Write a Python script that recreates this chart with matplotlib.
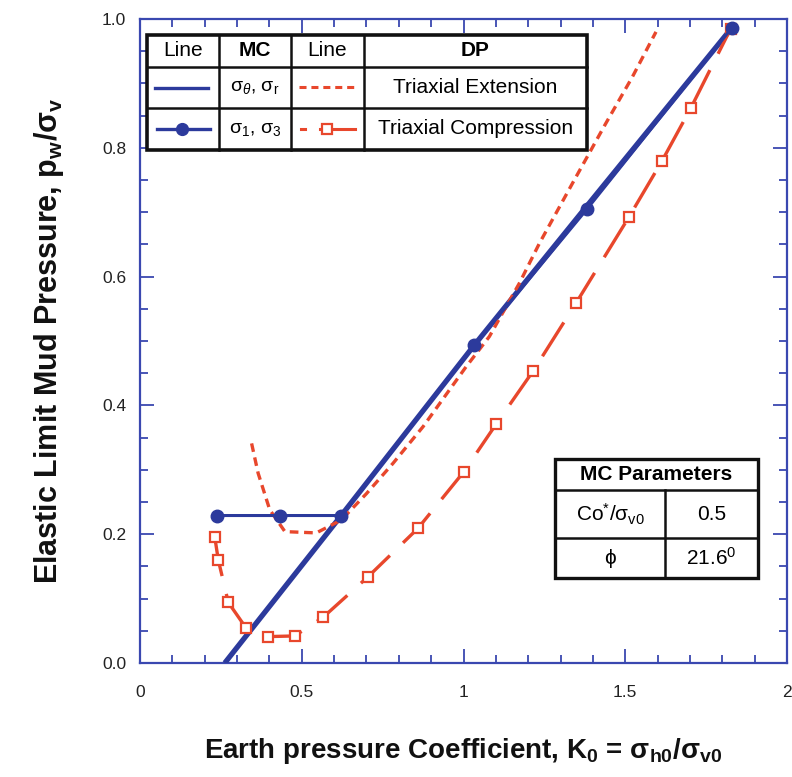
import matplotlib
matplotlib.use("Agg")
import matplotlib.pyplot as plt
from matplotlib.ticker import MultipleLocator
from matplotlib.lines import Line2D
from matplotlib.patches import Rectangle

plt.rcParams['font.family'] = ['Liberation Sans', 'DejaVu Sans']
plt.rcParams['mathtext.fontset'] = 'custom'
plt.rcParams['mathtext.rm'] = 'Liberation Sans'
plt.rcParams['mathtext.it'] = 'Liberation Sans:italic'
plt.rcParams['mathtext.bf'] = 'Liberation Sans:bold'

# ---- data: K0 = sigma_h0/sigma_v0 vs p_w/sigma_v ----
mc_theta_r_k = [0.262, 0.622, 1.034, 1.382, 1.829]
mc_theta_r_p = [0.0, 0.229, 0.494, 0.710, 0.986]

mc_13_k = [0.239, 0.432, 0.622, 1.034, 1.382, 1.829]
mc_13_p = [0.229, 0.229, 0.229, 0.494, 0.705, 0.986]

dp_ext_k = [0.345, 0.365, 0.401, 0.448, 0.545, 0.622, 0.700, 0.782, 0.875,
            1.008, 1.080, 1.173, 1.235, 1.337, 1.440, 1.522, 1.595]
dp_ext_p = [0.341, 0.295, 0.238, 0.204, 0.202, 0.222, 0.263, 0.310, 0.367,
            0.460, 0.507, 0.590, 0.652, 0.745, 0.838, 0.910, 0.980]

dp_comp_k = [0.231, 0.242, 0.273, 0.327, 0.396, 0.478, 0.566, 0.705, 0.859,
             1.001, 1.101, 1.216, 1.348, 1.512, 1.613, 1.703, 1.826]
dp_comp_p = [0.196, 0.160, 0.094, 0.055, 0.041, 0.042, 0.071, 0.134, 0.209,
             0.297, 0.371, 0.454, 0.559, 0.693, 0.779, 0.862, 0.985]

x_ticks = [0, 0.5, 1, 1.5, 2]
x_tick_labels = ["0", "0.5", "1", "1.5", "2"]
y_ticks = [0.0, 0.2, 0.4, 0.6, 0.8, 1.0]

mc_params = [("Co$^{*}$/σ$_{\\mathrm{v0}}$", "0.5"), ("ϕ", "21.6$^{0}$")]

BLUE = "#2c3a9c"
RED = "#e8472c"
SPINE = "#3a48b0"

W, H = 792, 777
fig = plt.figure(figsize=(W / 100, H / 100), dpi=100)
ax = fig.add_axes([140 / W, 1 - 663 / H, 647 / W, 644 / H])

# MC lines
ax.plot(mc_theta_r_k, mc_theta_r_p, color=BLUE, lw=3.8, solid_capstyle='butt', zorder=3)
ax.plot(mc_13_k, mc_13_p, color=BLUE, lw=2.2, marker='o', ms=9, mfc=BLUE, mec=BLUE, zorder=5)

# DP lines
ax.plot(dp_ext_k, dp_ext_p, color=RED, lw=2.4, dashes=(2.6, 1.7), zorder=4)
ax.plot(dp_comp_k, dp_comp_p, color=RED, lw=2.4, dashes=(12, 5.5),
        marker='s', ms=7.5, mfc='white', mec=RED, mew=1.6, zorder=4)

ax.set_xlim(0, 2)
ax.set_ylim(0, 1)
ax.set_xticks(x_ticks)
ax.set_xticklabels(x_tick_labels)
ax.xaxis.set_minor_locator(MultipleLocator(0.1))
ax.set_yticks(y_ticks)
ax.set_yticklabels([f"{v:.1f}" for v in y_ticks])
ax.yaxis.set_minor_locator(MultipleLocator(0.05))

for s in ax.spines.values():
    s.set_color(SPINE)
    s.set_linewidth(1.6)
ax.tick_params(which='both', direction='in', top=True, right=True, color=SPINE, width=1.3)
ax.tick_params(which='major', length=10)
ax.tick_params(which='minor', length=6)
ax.tick_params(axis='x', which='major', pad=16, labelsize=12.5, labelcolor='#222222')
ax.tick_params(axis='y', which='major', pad=10, labelsize=12.5, labelcolor='#222222')

ax.set_xlabel("Earth pressure Coefficient, K$_{\\mathbf{0}}$ = σ$_{\\mathbf{h0}}$/σ$_{\\mathbf{v0}}$",
              fontsize=20, fontweight='bold', labelpad=26, color='#111111')
ax.set_ylabel("Elastic Limit Mud Pressure, p$_{\\mathbf{w}}$/σ$_{\\mathbf{v}}$",
              fontsize=22, fontweight='bold', labelpad=26, color='#111111')

# overlay in pixel coordinates for the two tables
ov = fig.add_axes([0, 0, 1, 1], zorder=10)
ov.set_xlim(0, W)
ov.set_ylim(H, 0)
ov.axis('off')
ov.patch.set_alpha(0)

# legend table
x0, x1, y0, y1 = 147, 587, 35, 150
cols = [147, 219, 291, 364, 587]
rows = [35, 67, 108, 150]
ov.add_patch(Rectangle((x0, y0), x1 - x0, y1 - y0, facecolor='white', edgecolor='#111111', lw=2.6))
for c in cols[1:-1]:
    ov.plot([c, c], [y0, y1], color='#111111', lw=1.8)
for r in rows[1:-1]:
    ov.plot([x0, x1], [r, r], color='#111111', lw=1.8)

def cc(i):
    return (cols[i] + cols[i + 1]) / 2

def rc(j):
    return (rows[j] + rows[j + 1]) / 2

fs = 15
ov.text(cc(0), rc(0), "Line", ha='center', va='center', fontsize=fs)
ov.text(cc(1), rc(0), "MC", ha='center', va='center', fontsize=fs, fontweight='bold')
ov.text(cc(2), rc(0), "Line", ha='center', va='center', fontsize=fs)
ov.text(cc(3), rc(0), "DP", ha='center', va='center', fontsize=fs, fontweight='bold')
ov.text(cc(1), rc(1), "σ$_{\\theta}$, σ$_{\\mathrm{r}}$", ha='center', va='center', fontsize=fs - 1)
ov.text(cc(1), rc(2), "σ$_{\\mathrm{1}}$, σ$_{\\mathrm{3}}$", ha='center', va='center', fontsize=fs - 1)
ov.text(cc(3), rc(1), "Triaxial Extension", ha='center', va='center', fontsize=fs)
ov.text(cc(3), rc(2), "Triaxial Compression", ha='center', va='center', fontsize=fs)

ov.add_line(Line2D([155, 208], [rc(1), rc(1)], color=BLUE, lw=2.4))
ov.add_line(Line2D([157, 210], [rc(2), rc(2)], color=BLUE, lw=2.4))
ov.add_line(Line2D([182], [rc(2)], color=BLUE, marker='o', ms=8.5))
ov.add_line(Line2D([299, 354], [rc(1) - 1, rc(1) - 1], color=RED, lw=2.2, dashes=(2.3, 1.6)))
ov.add_line(Line2D([301, 305], [rc(2), rc(2)], color=RED, lw=2.2))
ov.add_line(Line2D([320, 355], [rc(2), rc(2)], color=RED, lw=2.2))
ov.add_line(Line2D([327], [rc(2)], color=RED, marker='s', ms=7.5, mfc='white', mec=RED, mew=1.6))

# MC parameters table
px0, px1, py0, py1 = 555, 758, 459, 578
prow = [459, 490, 538, 578]
pcol = 665
ov.add_patch(Rectangle((px0, py0), px1 - px0, py1 - py0, facecolor='white', edgecolor='#111111', lw=2.4))
for r in prow[1:-1]:
    ov.plot([px0, px1], [r, r], color='#111111', lw=1.8)
ov.plot([pcol, pcol], [prow[1], py1], color='#111111', lw=1.8)
ov.text((px0 + px1) / 2, (prow[0] + prow[1]) / 2, "MC Parameters", ha='center', va='center',
        fontsize=fs, fontweight='bold')
for j, (name, val) in enumerate(mc_params):
    yc = (prow[j + 1] + prow[j + 2]) / 2
    ov.text((px0 + pcol) / 2, yc, name, ha='center', va='center', fontsize=fs)
    ov.text((pcol + px1) / 2, yc, val, ha='center', va='center', fontsize=fs)

fig.savefig("out.png", dpi=100)
